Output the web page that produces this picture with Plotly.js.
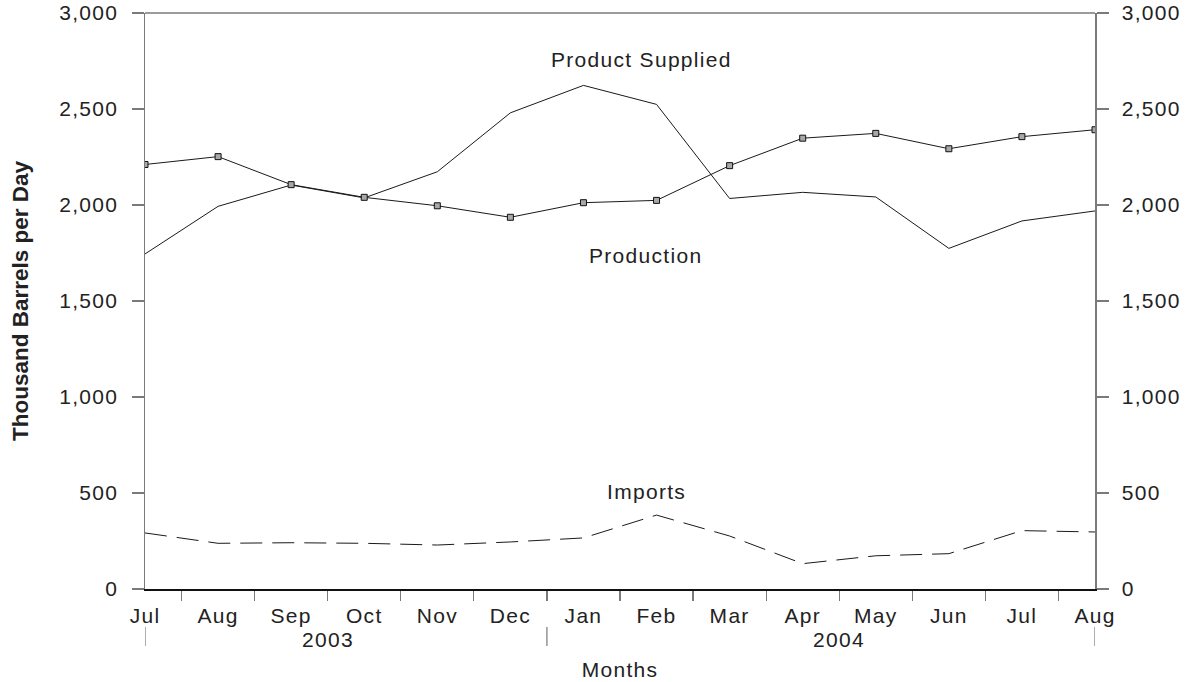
<!DOCTYPE html>
<html>
<head>
<meta charset="utf-8">
<script src="https://cdn.plot.ly/plotly-3.0.1.min.js"></script>
<style>
  html, body { margin: 0; padding: 0; background: #fff; }
  #chart { width: 1185px; height: 682px; }
  text { letter-spacing: 1.3px; }
  .ytitle { letter-spacing: 0px !important; }
</style>
</head>
<body>
<div id="chart"></div>
<script>
// ---- Data (thousand barrels per day) ----
const months = ['Jul','Aug','Sep','Oct','Nov','Dec','Jan','Feb','Mar','Apr','May','Jun','Jul','Aug'];
const years  = [2003,2003,2003,2003,2003,2003,2004,2004,2004,2004,2004,2004,2004,2004];
const productSupplied = [1745, 1993, 2104, 2037, 2173, 2480, 2623, 2524, 2034, 2066, 2042, 1774, 1917, 1969];
const production      = [2211, 2252, 2106, 2040, 1996, 1936, 2012, 2024, 2205, 2348, 2373, 2293, 2356, 2392];
const imports         = [292, 238, 241, 238, 229, 245, 266, 385, 276, 132, 173, 184, 304, 297];
const yTicks = [0, 500, 1000, 1500, 2000, 2500, 3000];

const idx = months.map((_, i) => i);
const halfIdx = months.slice(1).map((_, i) => i + 0.5);

const FONT = 'Liberation Sans, Arial, Helvetica, sans-serif';
const LINE = '#1a1a1a';
const AX = '#7a7a7a';

const traces = [
  { x: idx, y: productSupplied, name: 'Product Supplied', type: 'scatter', mode: 'lines',
    line: { color: LINE, width: 1 }, showlegend: false },
  { x: idx, y: production, name: 'Production', type: 'scatter', mode: 'lines+markers',
    line: { color: LINE, width: 1 },
    marker: { symbol: 'square', size: 6, color: '#a8a8a8', line: { color: '#111', width: 1 } },
    showlegend: false },
  { x: idx, y: imports, name: 'Imports', type: 'scatter', mode: 'lines', yaxis: 'y2',
    line: { color: LINE, width: 1, dash: '22px,10px' }, showlegend: false }
];

// year groups: label centred over that year's months, separators at year boundaries
const yearList = [...new Set(years)];
const yearCenters = yearList.map(yr => {
  const ii = idx.filter(i => years[i] === yr);
  return ii.reduce((a, b) => a + b, 0) / ii.length;
});
const separators = [0];
for (let i = 1; i < years.length; i++) if (years[i] !== years[i - 1]) separators.push(i - 0.5);
separators.push(idx[idx.length - 1]);

const plotH = 576;
const shapes = separators.map(s => ({
  type: 'line', xref: 'x', yref: 'paper', x0: s, x1: s,
  y0: -38 / plotH, y1: -57 / plotH, line: { color: AX, width: 1.2 }
}));
shapes.push({ type: 'line', xref: 'paper', yref: 'paper', x0: 0, x1: 1, y0: 1, y1: 1,
  line: { color: AX, width: 1.5 } });

const annotations = [
  { text: 'Product Supplied', x: 6.8, y: 2760, xref: 'x', yref: 'y', showarrow: false,
    font: { family: FONT, size: 21, color: '#222' } },
  { text: 'Production', x: 6.85, y: 1736, xref: 'x', yref: 'y', showarrow: false,
    font: { family: FONT, size: 21, color: '#222' } },
  { text: 'Imports', x: 6.86, y: 507, xref: 'x', yref: 'y', showarrow: false,
    font: { family: FONT, size: 21, color: '#222' } }
];
yearList.forEach((yr, k) => annotations.push({
  text: String(yr), x: yearCenters[k], xref: 'x', y: 0, yref: 'paper',
  yanchor: 'middle', yshift: -50, showarrow: false,
  font: { family: FONT, size: 21, color: '#222' }
}));

const yAxisBase = {
  range: [0, 3000], tickmode: 'array', tickvals: yTicks, tickformat: ',d',
  ticks: 'outside', ticklen: 12, tickcolor: AX, tickwidth: 1.2,
  showline: true, linecolor: AX, linewidth: 1.5,
  showgrid: false, zeroline: false, ticklabelstandoff: 9,
  tickfont: { family: FONT, size: 21, color: '#222' }
};

const layout = {
  width: 1185, height: 682,
  margin: { l: 145, r: 90, t: 13, b: 93 },
  paper_bgcolor: '#fff', plot_bgcolor: '#fff',
  showlegend: false,
  xaxis: {
    range: [0, 13], tickmode: 'array', tickvals: idx, ticktext: months,
    ticks: '', ticklabelstandoff: 7,
    minor: { tickmode: 'array', tickvals: halfIdx, ticks: 'outside', ticklen: 10, tickcolor: AX, tickwidth: 1.2 },
    showline: true, linecolor: '#111', linewidth: 2,
    showgrid: false, zeroline: false,
    tickfont: { family: FONT, size: 21, color: '#222' },
    title: { text: 'Months', font: { family: FONT, size: 21, color: '#222' }, standoff: 36 }
  },
  yaxis: Object.assign({}, yAxisBase, {
    title: { text: 'Thousand Barrels per Day', font: { family: FONT, size: 22.5, color: '#222', weight: 'bold' }, standoff: 24 }
  }),
  yaxis2: Object.assign({}, yAxisBase, { overlaying: 'y', side: 'right', anchor: 'x' }),
  shapes: shapes,
  annotations: annotations
};

Plotly.newPlot('chart', traces, layout, { displayModeBar: false, staticPlot: true });
</script>
</body>
</html>
